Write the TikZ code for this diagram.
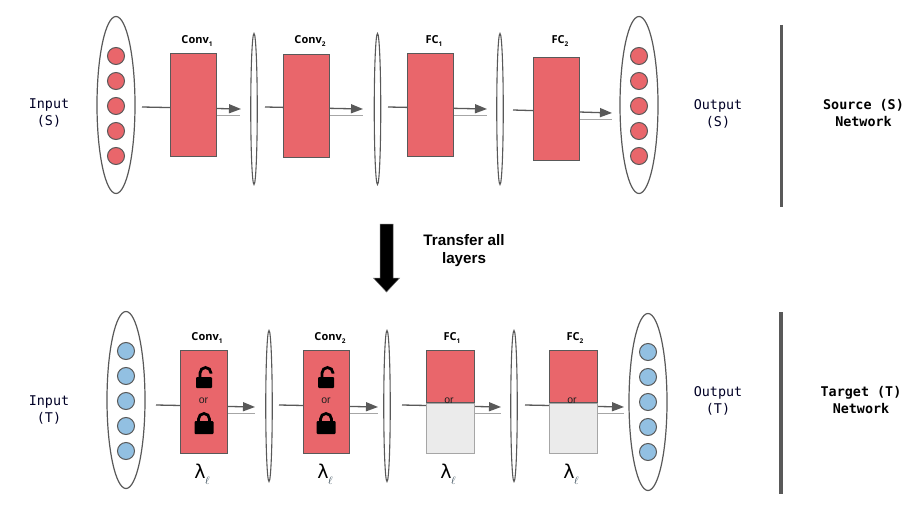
\documentclass[tikz,border=0pt]{standalone}
\usepackage{fontspec}
\setmainfont{Liberation Sans}
\setmonofont{DejaVu Sans Mono}
\newfontfamily\layerfont{Open Sans}
\newfontfamily\lamfont{DejaVu Sans}
\usetikzlibrary{arrows.meta,calc,shapes.geometric}
\definecolor{netred}{HTML}{E9666B}
\definecolor{netblue}{HTML}{92C0E2}
\definecolor{netline}{HTML}{595959}
\definecolor{netgrey}{HTML}{EBEBEB}
\tikzset{
  x=1pt,y=-1pt,
  bigell/.style={draw=netline,line width=1.2pt,fill=white,shape=ellipse,minimum width=38pt,minimum height=177pt,inner sep=0pt},
  thinell/.style={draw=netline,line width=1.1pt,fill=white,shape=ellipse,minimum width=6.5pt,minimum height=151pt,inner sep=0pt},
  neuronred/.style={draw=netline,line width=1pt,fill=netred,circle,minimum size=17pt,inner sep=0pt},
  neuronblue/.style={draw=netline,line width=1pt,fill=netblue,circle,minimum size=17pt,inner sep=0pt},
  layerbox/.style={draw=netline,line width=1pt,fill=netred,minimum width=46.5pt,minimum height=103pt,inner sep=0pt},
  halfbox/.style={draw=netline,line width=1pt,minimum width=48.5pt,inner sep=0pt},
  flow/.style={draw=netline,line width=1.3pt,-{Triangle[length=12pt,width=9pt]}},
  shadowline/.style={draw=black!35,line width=0.7pt},
  sep/.style={draw=netline,line width=3.5pt},
  monolabel/.style={font=\ttfamily\fontsize{13.4}{17}\selectfont,align=center,text=black!85!blue},
  boldlabel/.style={font=\ttfamily\bfseries\fontsize{13.4}{17}\selectfont,align=center},
  layername/.style={font=\layerfont\bfseries\fontsize{11}{12}\selectfont,inner sep=0pt},
  orlabel/.style={font=\fontsize{10.5}{11}\selectfont,inner sep=0pt,text=black!88},
  lam/.style={font=\lamfont\fontsize{19}{22}\selectfont,inner sep=0pt},
}
\newcommand{\subs}[1]{\raisebox{-3.5pt}{\fontsize{6.5}{6.5}\selectfont #1}}
% open / closed padlocks, origin at the body's centre
\newcommand{\closedlock}[1]{%
  \draw[black,line width=2.8pt] ($(#1)+(-5.5,-4)$) -- ++(0,-3) arc[start angle=180,end angle=360,radius=5.5] -- ++(0,3);
  \fill[black,rounded corners=1pt] ($(#1)+(-9.5,-5)$) rectangle ($(#1)+(9.5,8)$);
}
\newcommand{\openlock}[1]{%
  \draw[black,line width=2.8pt] ($(#1)+(-4,-4)$) -- ++(0,-4) arc[start angle=180,end angle=360,radius=5.5] -- ++(0,0.5);
  \fill[black,rounded corners=1pt] ($(#1)+(-8,-4)$) rectangle ($(#1)+(8,7)$);
}
\begin{document}
\begin{tikzpicture}
\useasboundingbox (0,0) rectangle (912,516);
\fill[white] (0,0) rectangle (912,516);

% ---------- source network ----------
\coordinate (sa1) at (142,107); \coordinate (sb1) at (241,109);
\coordinate (sa2) at (265,107); \coordinate (sb2) at (363,109);
\coordinate (sa3) at (388,107); \coordinate (sb3) at (487,109);
\coordinate (sa4) at (513,110); \coordinate (sb4) at (612,113);
\coordinate (ss1) at (217,115.5); \coordinate (se1) at (240,115.5);
\coordinate (ss2) at (330,115.5); \coordinate (se2) at (363,115.5);
\coordinate (ss3) at (454,115.5); \coordinate (se3) at (487,115.5);
\coordinate (ss4) at (580,119); \coordinate (se4) at (612,119);
\foreach \i in {1,...,4}{\draw[shadowline] (ss\i) -- (se\i); \draw[flow] (sa\i) -- (sb\i);}

\node[bigell] (sin) at (116,105) {};
\foreach \y [count=\n] in {56,81,106,131,156}{\node[neuronred] (sin\n) at (116,\y) {};}
\node[bigell] (sout) at (639,105) {};
\foreach \y [count=\n] in {56,81,106,131,156}{\node[neuronred] (sout\n) at (639,\y) {};}
\node[thinell] (sh1) at (254,109) {};
\node[thinell] (sh2) at (377.5,109) {};
\node[thinell] (sh3) at (500,109) {};

\node[layerbox] (sc1) at (193.5,105) {};
\node[layerbox] (sc2) at (306.5,106) {};
\node[layerbox] (sf1) at (430.5,105) {};
\node[layerbox] (sf2) at (556.5,109) {};
\node[layername] (lsc1) at (197,41) {Conv\subs{1}};
\node[layername] (lsc2) at (310,41) {Conv\subs{2}};
\node[layername] (lsf1) at (434,41) {FC\subs{1}};
\node[layername] (lsf2) at (560,41) {FC\subs{2}};

\node[monolabel] (tin) at (49,113) {Input\\(S)};
\node[monolabel] (tout) at (718,113.5) {Output\\(S)};
\node[boldlabel] (tsrc) at (863.5,113.5) {Source (S)\\Network};
\coordinate (b1a) at (781.5,25); \coordinate (b1b) at (781.5,207);
\draw[sep] (b1a) -- (b1b);

% ---------- transfer arrow ----------
\fill[black,draw=black!60,line width=0.5pt] (380,224) -- (393,224) -- (393,278) -- (399.5,278) -- (386.5,292) -- (373.5,278) -- (380,278) -- cycle;
\node[font=\bfseries\fontsize{15.2}{18}\selectfont,align=center] (tt) at (464,251) {Transfer all\\layers};

% ---------- target network ----------
\coordinate (ta1) at (156,405); \coordinate (tb1) at (255,407);
\coordinate (ta2) at (279,405); \coordinate (tb2) at (378,407);
\coordinate (ta3) at (402,405); \coordinate (tb3) at (501,407);
\coordinate (ta4) at (525,405); \coordinate (tb4) at (624,407);
\coordinate (ts1) at (227,413); \coordinate (te1) at (255,413);
\coordinate (ts2) at (350,413); \coordinate (te2) at (378,413);
\coordinate (ts3) at (475,413); \coordinate (te3) at (501,413);
\coordinate (ts4) at (598,413); \coordinate (te4) at (624,413);
\foreach \i in {1,...,4}{\draw[shadowline] (ts\i) -- (te\i); \draw[flow] (ta\i) -- (tb\i);}

\node[bigell] (tinn) at (126,400) {};
\foreach \y [count=\n] in {351,376,401,426,451}{\node[neuronblue] (tin\n) at (126,\y) {};}
\node[bigell] (toutt) at (648,402) {};
\foreach \y [count=\n] in {352,377,402,427,452}{\node[neuronblue] (tout\n) at (648,\y) {};}
\node[thinell] (th1) at (269,406) {};
\node[thinell] (th2) at (387,406) {};
\node[thinell] (th3) at (514,406) {};

\node[layerbox] (tc1) at (204,401.5) {};
\node[layerbox] (tc2) at (326.5,401.5) {};
\node[halfbox,fill=netred,minimum height=52pt] (tf1a) at (450.5,376.5) {};
\node[halfbox,fill=netgrey,draw=black!35,minimum height=50pt] (tf1b) at (450.5,428) {};
\node[halfbox,fill=netred,minimum height=52pt] (tf2a) at (573.5,376.5) {};
\node[halfbox,fill=netgrey,draw=black!35,minimum height=50pt] (tf2b) at (573.5,428) {};

\openlock{204,381}
\closedlock{204,426}
\openlock{326,381}
\closedlock{326,426}
\node[orlabel] (or1) at (203.5,401) {or};
\node[orlabel] (or2) at (326,401) {or};
\node[orlabel] (or3) at (449,401) {or};
\node[orlabel] (or4) at (572,401) {or};

\node[layername] (ltc1) at (207,338) {Conv\subs{1}};
\node[layername] (ltc2) at (330,338) {Conv\subs{2}};
\node[layername] (ltf1) at (452,338) {FC\subs{1}};
\node[layername] (ltf2) at (575,338) {FC\subs{2}};

\foreach \x [count=\n] in {200,323,446,569}{
  \node[lam] (lam\n) at (\x,471) {λ};
  \node[inner sep=0pt,font=\fontsize{11}{11}\selectfont,text=netblue!40!black] (ell\n) at (\x+7.5,481) {$\ell$};
}

\node[monolabel] (uin) at (49,410) {Input\\(T)};
\node[monolabel] (uout) at (718,400.5) {Output\\(T)};
\node[boldlabel] (utgt) at (861,400.5) {Target (T)\\Network};
\coordinate (b2a) at (781,312); \coordinate (b2b) at (781,494);
\draw[sep] (b2a) -- (b2b);
\end{tikzpicture}
\end{document}
